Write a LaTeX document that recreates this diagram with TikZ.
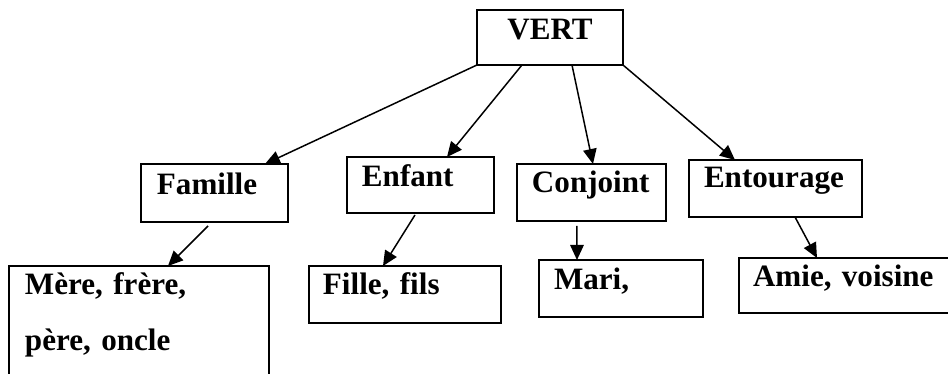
\documentclass[tikz,border=0pt]{standalone}
\usepackage{fontspec}
\setmainfont{Liberation Serif}
\usepackage{tikz}
\usetikzlibrary{arrows.meta}

\begin{document}
\begin{tikzpicture}[
  x=0.02cm, y=-0.02cm,
  box/.style={draw, line width=1.3pt, anchor=north west, outer sep=0pt,
              inner ysep=0pt, align=left,
              font=\fontsize{17.7pt}{31.8pt}\selectfont\bfseries},
  arr/.style={-{Triangle[length=0.3cm, width=0.27cm]}, line width=0.85pt}
]
\useasboundingbox (0,0) rectangle (948,374);
\clip (0,0) rectangle (948,374);

% root
\node[box, align=center, inner xsep=0pt, text width=2.92cm,
      text height=0.6cm, text depth=0.5cm] (vert) at (477,10) {VERT};

% first level
\node[box, inner xsep=0.32cm, text width=2.3cm,
      text height=0.62cm, text depth=0.54cm] (fam) at (141,164) {Famille};
\node[box, inner xsep=0.3cm, text width=2.34cm,
      text height=0.6cm, text depth=0.52cm] (enf) at (347,157) {Enfant};
\node[box, inner xsep=0.3cm, text width=2.38cm,
      text height=0.58cm, text depth=0.56cm] (conj) at (517,164) {Conjoint};
\node[box, inner xsep=0.3cm, text width=2.86cm,
      text height=0.56cm, text depth=0.58cm] (ent) at (689,160) {Entourage};

% second level
\node[box, inner xsep=0.32cm, text width=4.56cm,
      text height=0.58cm, text depth=2.1cm] (mere) at (9,266)
  {Mère, frère,\\ père, oncle};
\node[box, inner xsep=0.28cm, text width=3.28cm,
      text height=0.58cm, text depth=0.56cm] (fille) at (309,266) {Fille, fils};
\node[box, inner xsep=0.3cm, text width=2.68cm,
      text height=0.6cm, text depth=0.54cm] (mari) at (539,260) {Mari,};
\node[box, inner xsep=0.28cm, text width=3.96cm,
      text height=0.58cm, text depth=0.52cm] (amie) at (739,258) {Amie, voisine};

% links
\draw[arr] (vert.south west) -- ([xshift=2.48cm]fam.north west);
\draw[arr] ([xshift=0.9cm]vert.south west) -- ([xshift=2cm]enf.north west);
\draw[arr] ([xshift=1.9cm]vert.south west) -- ([xshift=1.52cm]conj.north west);
\draw[arr] (vert.south east) -- ([xshift=0.92cm]ent.north west);

\draw[arr] ([xshift=1.34cm, yshift=-0.08cm]fam.south west) -- ([xshift=3.18cm]mere.north west);
\draw[arr] ([xshift=1.36cm, yshift=-0.04cm]enf.south west) -- ([xshift=1.48cm]fille.north west);
\draw[arr] ([xshift=1.2cm, yshift=-0.1cm]conj.south west) -- ([xshift=0.76cm]mari.north west);
\draw[arr] ([xshift=2.12cm]ent.south west) -- ([xshift=1.56cm]amie.north west);
\end{tikzpicture}
\end{document}
